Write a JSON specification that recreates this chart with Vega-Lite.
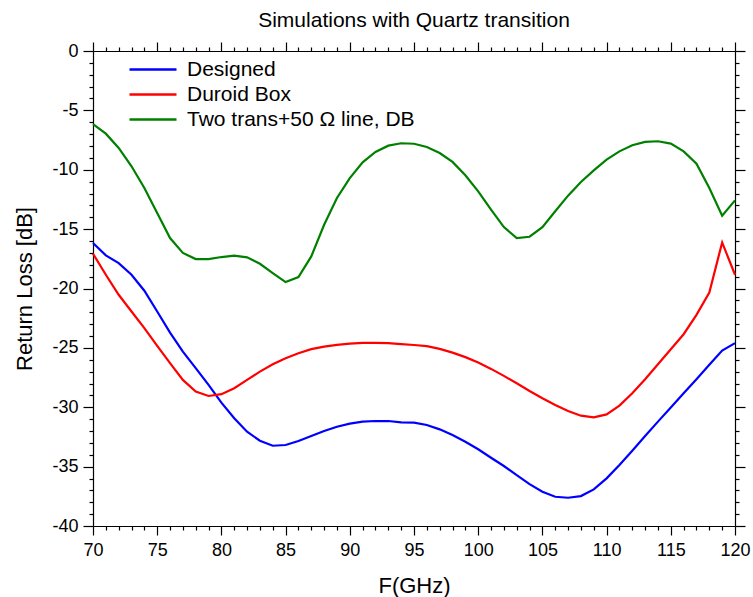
{
  "$schema": "https://vega.github.io/schema/vega-lite/v6.json",
  "autosize": {"type": "none"},
  "padding": {"left": 93, "top": 51, "right": 18, "bottom": 71},
  "width": 642,
  "height": 475,
  "background": "white",
  "title": {"text": "Simulations with Quartz transition", "font": "Liberation Sans", "fontSize": 21, "fontWeight": "normal", "color": "black", "offset": 10},
  "config": {
    "view": {"stroke": null},
    "axis": {"labelFont": "Liberation Sans", "titleFont": "Liberation Sans", "labelFontSize": 18, "titleFontSize": 22, "titleFontWeight": "normal", "labelColor": "black", "titleColor": "black", "domainColor": "black", "tickColor": "black", "grid": false, "domainWidth": 1.2, "tickWidth": 1.2}
  },
  "datasets": {
    "d": [
      {"f":70,"s":"Designed","v":-16.17},{"f":71,"s":"Designed","v":-17.21},{"f":72,"s":"Designed","v":-17.86},{"f":73,"s":"Designed","v":-18.84},{"f":74,"s":"Designed","v":-20.19},{"f":75,"s":"Designed","v":-21.94},{"f":76,"s":"Designed","v":-23.71},{"f":77,"s":"Designed","v":-25.31},{"f":78,"s":"Designed","v":-26.71},{"f":79,"s":"Designed","v":-28.12},{"f":80,"s":"Designed","v":-29.61},{"f":81,"s":"Designed","v":-30.93},{"f":82,"s":"Designed","v":-32.06},{"f":83,"s":"Designed","v":-32.82},{"f":84,"s":"Designed","v":-33.24},{"f":85,"s":"Designed","v":-33.18},{"f":86,"s":"Designed","v":-32.84},{"f":87,"s":"Designed","v":-32.42},{"f":88,"s":"Designed","v":-32.0},{"f":89,"s":"Designed","v":-31.64},{"f":90,"s":"Designed","v":-31.38},{"f":91,"s":"Designed","v":-31.21},{"f":92,"s":"Designed","v":-31.16},{"f":93,"s":"Designed","v":-31.16},{"f":94,"s":"Designed","v":-31.27},{"f":95,"s":"Designed","v":-31.3},{"f":96,"s":"Designed","v":-31.49},{"f":97,"s":"Designed","v":-31.86},{"f":98,"s":"Designed","v":-32.34},{"f":99,"s":"Designed","v":-32.9},{"f":100,"s":"Designed","v":-33.54},{"f":101,"s":"Designed","v":-34.25},{"f":102,"s":"Designed","v":-34.95},{"f":103,"s":"Designed","v":-35.71},{"f":104,"s":"Designed","v":-36.47},{"f":105,"s":"Designed","v":-37.12},{"f":106,"s":"Designed","v":-37.54},{"f":107,"s":"Designed","v":-37.62},{"f":108,"s":"Designed","v":-37.48},{"f":109,"s":"Designed","v":-36.92},{"f":110,"s":"Designed","v":-35.99},{"f":111,"s":"Designed","v":-34.87},{"f":112,"s":"Designed","v":-33.66},{"f":113,"s":"Designed","v":-32.42},{"f":114,"s":"Designed","v":-31.21},{"f":115,"s":"Designed","v":-30.03},{"f":116,"s":"Designed","v":-28.82},{"f":117,"s":"Designed","v":-27.64},{"f":118,"s":"Designed","v":-26.43},{"f":119,"s":"Designed","v":-25.23},{"f":120,"s":"Designed","v":-24.6},
      {"f":70,"s":"Duroid Box","v":-17.07},{"f":71,"s":"Duroid Box","v":-18.84},{"f":72,"s":"Duroid Box","v":-20.53},{"f":73,"s":"Duroid Box","v":-21.94},{"f":74,"s":"Duroid Box","v":-23.34},{"f":75,"s":"Duroid Box","v":-24.83},{"f":76,"s":"Duroid Box","v":-26.29},{"f":77,"s":"Duroid Box","v":-27.7},{"f":78,"s":"Duroid Box","v":-28.68},{"f":79,"s":"Duroid Box","v":-29.05},{"f":80,"s":"Duroid Box","v":-28.9},{"f":81,"s":"Duroid Box","v":-28.4},{"f":82,"s":"Duroid Box","v":-27.7},{"f":83,"s":"Duroid Box","v":-27.0},{"f":84,"s":"Duroid Box","v":-26.38},{"f":85,"s":"Duroid Box","v":-25.87},{"f":86,"s":"Duroid Box","v":-25.45},{"f":87,"s":"Duroid Box","v":-25.11},{"f":88,"s":"Duroid Box","v":-24.89},{"f":89,"s":"Duroid Box","v":-24.75},{"f":90,"s":"Duroid Box","v":-24.64},{"f":91,"s":"Duroid Box","v":-24.58},{"f":92,"s":"Duroid Box","v":-24.58},{"f":93,"s":"Duroid Box","v":-24.6},{"f":94,"s":"Duroid Box","v":-24.69},{"f":95,"s":"Duroid Box","v":-24.76},{"f":96,"s":"Duroid Box","v":-24.86},{"f":97,"s":"Duroid Box","v":-25.08},{"f":98,"s":"Duroid Box","v":-25.4},{"f":99,"s":"Duroid Box","v":-25.78},{"f":100,"s":"Duroid Box","v":-26.24},{"f":101,"s":"Duroid Box","v":-26.77},{"f":102,"s":"Duroid Box","v":-27.36},{"f":103,"s":"Duroid Box","v":-27.98},{"f":104,"s":"Duroid Box","v":-28.63},{"f":105,"s":"Duroid Box","v":-29.24},{"f":106,"s":"Duroid Box","v":-29.81},{"f":107,"s":"Duroid Box","v":-30.31},{"f":108,"s":"Duroid Box","v":-30.71},{"f":109,"s":"Duroid Box","v":-30.85},{"f":110,"s":"Duroid Box","v":-30.6},{"f":111,"s":"Duroid Box","v":-29.86},{"f":112,"s":"Duroid Box","v":-28.82},{"f":113,"s":"Duroid Box","v":-27.64},{"f":114,"s":"Duroid Box","v":-26.38},{"f":115,"s":"Duroid Box","v":-25.11},{"f":116,"s":"Duroid Box","v":-23.85},{"f":117,"s":"Duroid Box","v":-22.22},{"f":118,"s":"Duroid Box","v":-20.34},{"f":119,"s":"Duroid Box","v":-16.12},{"f":120,"s":"Duroid Box","v":-18.84},
      {"f":70,"s":"Two trans+50 Ω line, DB","v":-6.15},{"f":71,"s":"Two trans+50 Ω line, DB","v":-6.96},{"f":72,"s":"Two trans+50 Ω line, DB","v":-8.16},{"f":73,"s":"Two trans+50 Ω line, DB","v":-9.71},{"f":74,"s":"Two trans+50 Ω line, DB","v":-11.54},{"f":75,"s":"Two trans+50 Ω line, DB","v":-13.65},{"f":76,"s":"Two trans+50 Ω line, DB","v":-15.75},{"f":77,"s":"Two trans+50 Ω line, DB","v":-17.0},{"f":78,"s":"Two trans+50 Ω line, DB","v":-17.52},{"f":79,"s":"Two trans+50 Ω line, DB","v":-17.52},{"f":80,"s":"Two trans+50 Ω line, DB","v":-17.35},{"f":81,"s":"Two trans+50 Ω line, DB","v":-17.24},{"f":82,"s":"Two trans+50 Ω line, DB","v":-17.38},{"f":83,"s":"Two trans+50 Ω line, DB","v":-17.92},{"f":84,"s":"Two trans+50 Ω line, DB","v":-18.7},{"f":85,"s":"Two trans+50 Ω line, DB","v":-19.46},{"f":86,"s":"Two trans+50 Ω line, DB","v":-19.04},{"f":87,"s":"Two trans+50 Ω line, DB","v":-17.3},{"f":88,"s":"Two trans+50 Ω line, DB","v":-14.63},{"f":89,"s":"Two trans+50 Ω line, DB","v":-12.38},{"f":90,"s":"Two trans+50 Ω line, DB","v":-10.7},{"f":91,"s":"Two trans+50 Ω line, DB","v":-9.37},{"f":92,"s":"Two trans+50 Ω line, DB","v":-8.5},{"f":93,"s":"Two trans+50 Ω line, DB","v":-7.97},{"f":94,"s":"Two trans+50 Ω line, DB","v":-7.77},{"f":95,"s":"Two trans+50 Ω line, DB","v":-7.81},{"f":96,"s":"Two trans+50 Ω line, DB","v":-8.08},{"f":97,"s":"Two trans+50 Ω line, DB","v":-8.59},{"f":98,"s":"Two trans+50 Ω line, DB","v":-9.34},{"f":99,"s":"Two trans+50 Ω line, DB","v":-10.47},{"f":100,"s":"Two trans+50 Ω line, DB","v":-11.82},{"f":101,"s":"Two trans+50 Ω line, DB","v":-13.36},{"f":102,"s":"Two trans+50 Ω line, DB","v":-14.83},{"f":103,"s":"Two trans+50 Ω line, DB","v":-15.75},{"f":104,"s":"Two trans+50 Ω line, DB","v":-15.64},{"f":105,"s":"Two trans+50 Ω line, DB","v":-14.83},{"f":106,"s":"Two trans+50 Ω line, DB","v":-13.5},{"f":107,"s":"Two trans+50 Ω line, DB","v":-12.18},{"f":108,"s":"Two trans+50 Ω line, DB","v":-11.03},{"f":109,"s":"Two trans+50 Ω line, DB","v":-10.05},{"f":110,"s":"Two trans+50 Ω line, DB","v":-9.15},{"f":111,"s":"Two trans+50 Ω line, DB","v":-8.45},{"f":112,"s":"Two trans+50 Ω line, DB","v":-7.94},{"f":113,"s":"Two trans+50 Ω line, DB","v":-7.66},{"f":114,"s":"Two trans+50 Ω line, DB","v":-7.6},{"f":115,"s":"Two trans+50 Ω line, DB","v":-7.8},{"f":116,"s":"Two trans+50 Ω line, DB","v":-8.45},{"f":117,"s":"Two trans+50 Ω line, DB","v":-9.49},{"f":118,"s":"Two trans+50 Ω line, DB","v":-11.54},{"f":119,"s":"Two trans+50 Ω line, DB","v":-13.87},{"f":120,"s":"Two trans+50 Ω line, DB","v":-12.58}
    ]
  },
  "data": {"name": "d"},
  "layer": [
    {
      "mark": {"type": "line", "strokeWidth": 2.2},
      "encoding": {
        "x": {"field": "f", "type": "quantitative", "scale": {"domain": [70, 120], "nice": false, "zero": false},
          "axis": {"orient": "bottom", "title": "F(GHz)", "values": [70,71,72,73,74,75,76,77,78,79,80,81,82,83,84,85,86,87,88,89,90,91,92,93,94,95,96,97,98,99,100,101,102,103,104,105,106,107,108,109,110,111,112,113,114,115,116,117,118,119,120],
            "labelExpr": "datum.value % 5 === 0 ? '' + datum.value : ''",
            "tickSize": {"condition": {"test": "datum.value % 5 === 0", "value": 9}, "value": 4},
            "labelPadding": 6, "labelFlush": false, "labelOverlap": false, "titlePadding": 16}},
        "y": {"field": "v", "type": "quantitative", "scale": {"domain": [-40, 0], "nice": false, "zero": false},
          "axis": {"orient": "left", "title": "Return Loss [dB]", "values": [-40,-39,-38,-37,-36,-35,-34,-33,-32,-31,-30,-29,-28,-27,-26,-25,-24,-23,-22,-21,-20,-19,-18,-17,-16,-15,-14,-13,-12,-11,-10,-9,-8,-7,-6,-5,-4,-3,-2,-1,0],
            "labelExpr": "datum.value % 5 === 0 ? '' + datum.value : ''",
            "tickSize": {"condition": {"test": "datum.value % 5 === 0", "value": 10}, "value": 4},
            "labelPadding": 5, "labelOverlap": false, "labelFlush": false, "titlePadding": 15}},
        "color": {"field": "s", "type": "nominal",
          "scale": {"domain": ["Designed", "Duroid Box", "Two trans+50 Ω line, DB"], "range": ["#0000ff", "#ff0000", "#008000"]},
          "legend": {"orient": "none", "legendX": 35, "legendY": 6, "title": null, "symbolType": "stroke", "symbolSize": 2209, "symbolStrokeWidth": 2.5, "labelFont": "Liberation Sans", "labelFontSize": 21, "labelColor": "black", "labelOffset": 9, "labelLimit": 0, "padding": 0, "rowPadding": 0, "clipHeight": 25}}
      }
    },
    {
      "mark": {"type": "line", "strokeOpacity": 0},
      "encoding": {
        "x": {"field": "f", "type": "quantitative",
          "axis": {"orient": "top", "title": null, "labels": false, "values": [70,71,72,73,74,75,76,77,78,79,80,81,82,83,84,85,86,87,88,89,90,91,92,93,94,95,96,97,98,99,100,101,102,103,104,105,106,107,108,109,110,111,112,113,114,115,116,117,118,119,120],
            "tickSize": {"condition": {"test": "datum.value % 5 === 0", "value": 9}, "value": 4}}},
        "y": {"field": "v", "type": "quantitative",
          "axis": {"orient": "right", "title": null, "labels": false, "values": [-40,-39,-38,-37,-36,-35,-34,-33,-32,-31,-30,-29,-28,-27,-26,-25,-24,-23,-22,-21,-20,-19,-18,-17,-16,-15,-14,-13,-12,-11,-10,-9,-8,-7,-6,-5,-4,-3,-2,-1,0],
            "tickSize": {"condition": {"test": "datum.value % 5 === 0", "value": 10}, "value": 4}}},
        "detail": {"field": "s"}
      }
    }
  ],
  "resolve": {"axis": {"x": "independent", "y": "independent"}}
}
